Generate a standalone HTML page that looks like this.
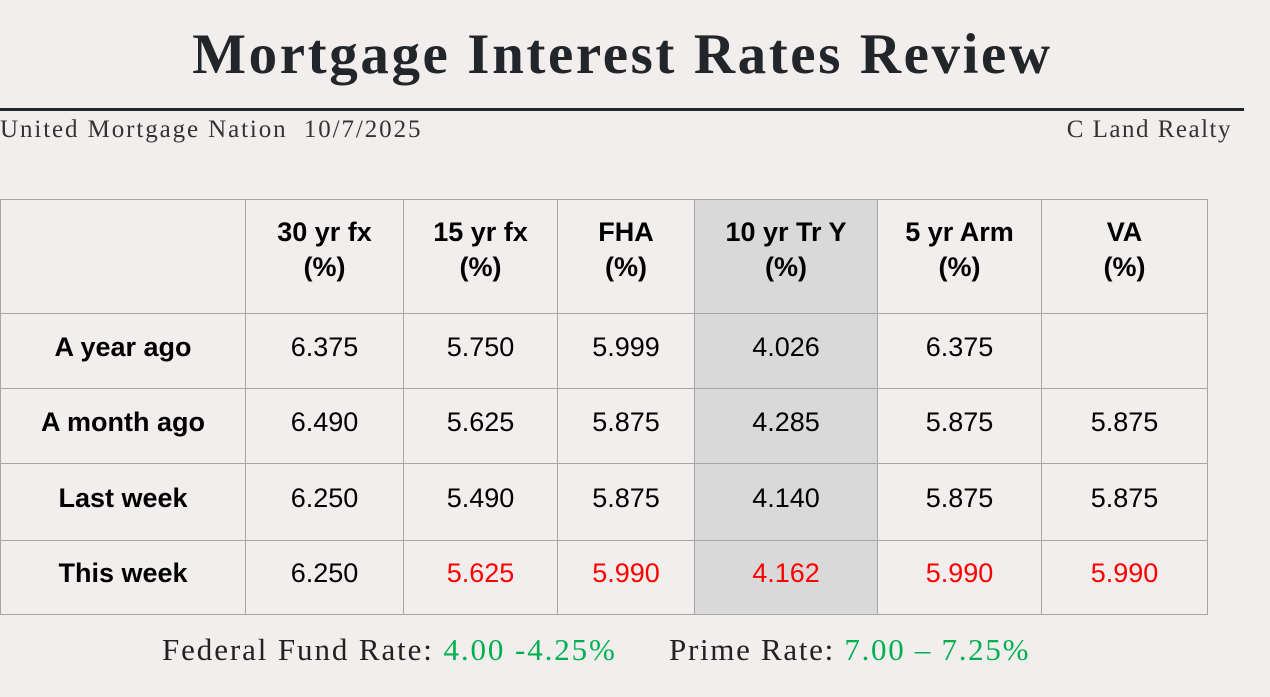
<!DOCTYPE html>
<html><head><meta charset="utf-8"><style>
body{margin:0;width:1270px;height:697px;background:#f2eeed;position:relative;overflow:hidden;font-family:"Liberation Sans",sans-serif;color:#000}
.t{position:absolute;left:0;width:1245px;top:22px;text-align:center;font-family:"Liberation Serif",serif;font-weight:bold;font-size:57px;color:#222529;letter-spacing:2.6px}
.line{position:absolute;left:0;top:108px;width:1244px;height:3px;background:#222529}
.s{position:absolute;top:116px;font-family:"Liberation Serif",serif;font-size:25px;color:#333;letter-spacing:1.9px}
table{position:absolute;left:0;top:199px;border-collapse:collapse;}
td{border:1.5px solid #a6a6a6;text-align:center;font-size:27px;padding:0 0 8px 0}
tr.h td{font-weight:bold;line-height:35px;padding-bottom:14px}
td.l{font-weight:bold}
td.g{background:#d9d9d9}
.r{color:#f00}
.f{position:absolute;top:632px;font-family:"Liberation Serif",serif;font-size:31px;color:#222;letter-spacing:1.9px}
.f span{color:#00b050}
</style></head><body>
<div class="t">Mortgage Interest Rates Review</div>
<div class="line"></div>
<div class="s" style="left:0">United Mortgage Nation&nbsp; 10/7/2025</div>
<div class="s" style="right:38px;letter-spacing:1.5px">C Land Realty</div>
<table>
<colgroup><col style="width:245px"><col style="width:158px"><col style="width:154px"><col style="width:137px"><col style="width:183px"><col style="width:164px"><col style="width:166px"></colgroup>
<tr class="h" style="height:114px"><td></td><td>30 yr fx<br>(%)</td><td>15 yr fx<br>(%)</td><td>FHA<br>(%)</td><td class="g">10 yr Tr Y<br>(%)</td><td>5 yr Arm<br>(%)</td><td>VA<br>(%)</td></tr>
<tr style="height:75px"><td class="l">A year ago</td><td>6.375</td><td>5.750</td><td>5.999</td><td class="g">4.026</td><td>6.375</td><td></td></tr>
<tr style="height:75px"><td class="l">A month ago</td><td>6.490</td><td>5.625</td><td>5.875</td><td class="g">4.285</td><td>5.875</td><td>5.875</td></tr>
<tr style="height:77px"><td class="l">Last week</td><td>6.250</td><td>5.490</td><td>5.875</td><td class="g">4.140</td><td>5.875</td><td>5.875</td></tr>
<tr style="height:74px"><td class="l">This week</td><td>6.250</td><td class="r">5.625</td><td class="r">5.990</td><td class="g r">4.162</td><td class="r">5.990</td><td class="r">5.990</td></tr>
</table>
<div class="f" style="left:162px">Federal Fund Rate: <span>4.00 -4.25%</span></div>
<div class="f" style="left:669px;letter-spacing:1.7px">Prime Rate: <span>7.00 – 7.25%</span></div>
</body></html>
